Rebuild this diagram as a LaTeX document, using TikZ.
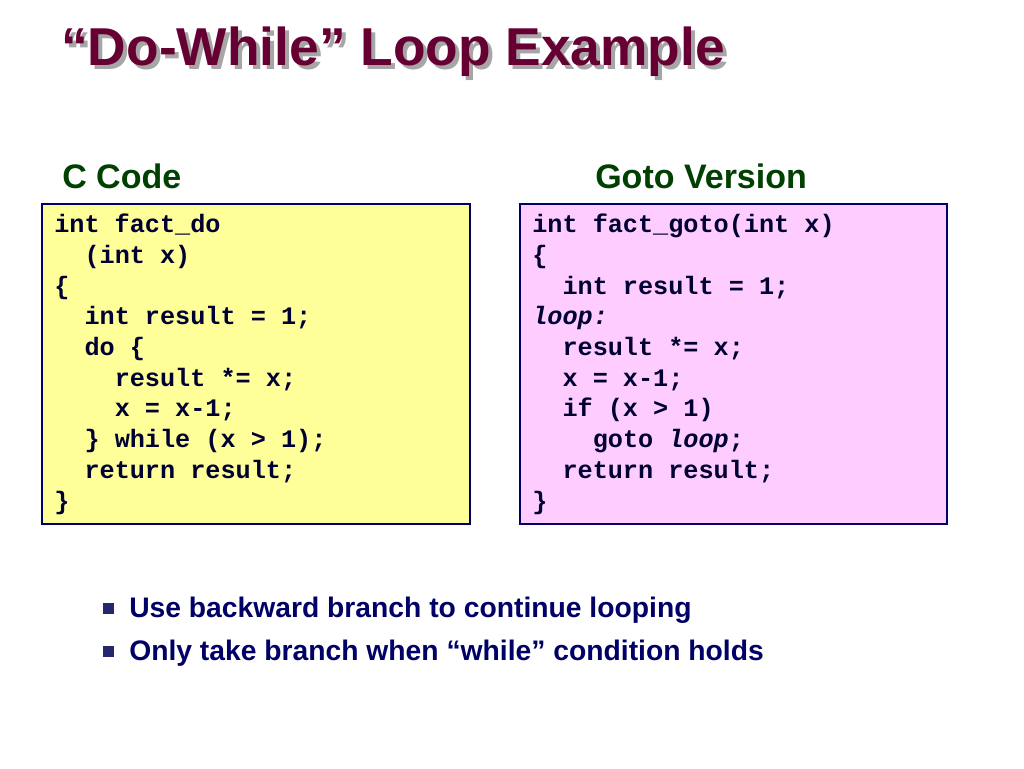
\documentclass[tikz,border=0pt]{standalone}
\usepackage{fontspec}
\setmainfont{Liberation Sans}
\setmonofont{Liberation Mono}
\definecolor{maroon}{RGB}{102,0,51}
\definecolor{dgreen}{RGB}{0,64,0}
\definecolor{navy}{RGB}{0,0,102}
\definecolor{codec}{RGB}{0,0,51}
\definecolor{yel}{RGB}{255,255,153}
\definecolor{pnk}{RGB}{255,204,255}
\tikzset{
 codebox/.style={draw=navy,line width=1pt},
 code/.style={anchor=base west,inner sep=0pt,font=\fontsize{18.9}{23}\selectfont\ttfamily\bfseries,text=codec},
 head/.style={anchor=base west,inner sep=0pt,font=\fontsize{25.5}{28}\selectfont\bfseries,text=dgreen},
 bul/.style={anchor=base west,inner sep=0pt,font=\fontsize{21.2}{24}\selectfont\bfseries,text=navy},
 ttl/.style={anchor=base west,inner sep=0pt,font=\fontsize{40}{44}\selectfont\bfseries},
}
\begin{document}
\begin{tikzpicture}[x=0.75pt,y=-0.75pt]
\useasboundingbox (0,0) rectangle (1024,768);
\node (shadow)[ttl,text=black!35] at (65,69) {“Do-While” Loop Example};
\node (title)[ttl,text=maroon] at (61,65) {“Do-While” Loop Example};
\node (h1)[head] at (62,188) {C Code};
\node (h2)[head] at (595,188) {Goto Version};
\draw[codebox,fill=yel] (42,204) rectangle (470,524);
\draw[codebox,fill=pnk] (520,204) rectangle (947,524);
\foreach \t [count=\i] in {int fact\_do,\ \ (int x),\{,\ \ int result = 1;,\ \ do \{,\ \ \ \ result *= x;,\ \ \ \ x = x-1;,\ \ \} while (x > 1);,\ \ return result;,\}}
  \node (c\i)[code] at (54,{202+30.7*\i}) {\t};
\foreach \t [count=\i] in {int fact\_goto(int x),\{,\ \ int result = 1;,{\itshape loop:},\ \ result *= x;,\ \ x = x-1;,\ \ if (x > 1),\ \ \ \ goto {\itshape loop};,\ \ return result;,\}}
  \node (g\i)[code] at (532,{202+30.7*\i}) {\t};
\fill[navy!70!gray] (103,603) rectangle (114,614);
\fill[navy!70!gray] (103,646) rectangle (114,657);
\node (b1)[bul] at (129,617) {Use backward branch to continue looping};
\node (b2)[bul] at (129,660) {Only take branch when “while” condition holds};
\end{tikzpicture}
\end{document}
